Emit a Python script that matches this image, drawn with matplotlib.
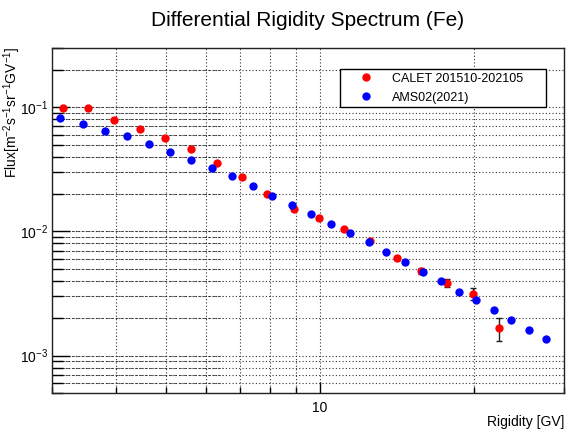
import matplotlib
matplotlib.use("Agg")
import matplotlib.pyplot as plt
from matplotlib.ticker import LogLocator, NullFormatter, FixedLocator, FixedFormatter

# CALET 201510-202105 (Fe)
calet_rigidity = [3.15, 3.53, 3.97, 4.46, 4.99, 5.60, 6.30, 7.04, 7.90, 8.91,
                  9.99, 11.16, 12.56, 14.13, 15.80, 17.74, 19.91, 22.35]
calet_flux = [0.0982, 0.0982, 0.0791, 0.0670, 0.0567, 0.0465, 0.0356, 0.0275, 0.0199, 0.01524,
              0.01273, 0.01045, 0.00837, 0.00614, 0.00482, 0.00386, 0.00316, 0.00166]
calet_err = [0.0012, 0.0012, 0.0009, 0.0008, 0.0007, 0.0006, 0.0005, 0.0004, 0.0003, 0.0003,
             0.0003, 0.0003, 0.0002, 0.0002, 0.00027, 0.0003, 0.00034, 0.00034]

# AMS02 (2021)
ams_rigidity = [3.115, 3.45, 3.81, 4.20, 4.65, 5.11, 5.60, 6.17, 6.74, 7.40,
                8.08, 8.83, 9.63, 10.52, 11.44, 12.47, 13.50, 14.68, 15.90, 17.22,
                18.67, 20.21, 21.91, 23.65, 25.65, 27.70]
ams_flux = [0.0826, 0.0739, 0.0645, 0.0584, 0.0503, 0.0434, 0.0377, 0.0322, 0.0278, 0.0231,
            0.0193, 0.01633, 0.0138, 0.01153, 0.00964, 0.00822, 0.00683, 0.00567, 0.00471, 0.00400,
            0.00328, 0.00278, 0.00231, 0.00193, 0.00160, 0.00135]

plt.rcParams['font.family'] = ['Liberation Sans', 'DejaVu Sans']
plt.rcParams['mathtext.fontset'] = 'custom'
plt.rcParams['mathtext.rm'] = 'Liberation Sans'
plt.rcParams['mathtext.it'] = 'Liberation Sans:italic'
plt.rcParams['mathtext.default'] = 'regular'

W, H = 567, 430
fig = plt.figure(figsize=(W / 100, H / 100), dpi=100)
ax = fig.add_axes([52 / W, 1 - 393 / H, 512 / W, 345 / H])

ax.errorbar(calet_rigidity, calet_flux, yerr=calet_err, fmt='none',
            ecolor='#222222', elinewidth=1, capsize=2, zorder=3)
h_calet, = ax.plot(calet_rigidity, calet_flux, 'o', color='red', markersize=6,
                   markeredgewidth=0, label='CALET 201510-202105', zorder=3.5)
h_ams, = ax.plot(ams_rigidity, ams_flux, 'o', color='blue', markersize=6,
                 markeredgewidth=0, label='AMS02(2021)', zorder=4)

ax.set_xscale('log')
ax.set_yscale('log')
ax.set_xlim(3, 30)
ax.set_ylim(5e-4, 0.3)

ax.xaxis.set_major_locator(FixedLocator([10]))
ax.xaxis.set_major_formatter(FixedFormatter(['10']))
ax.xaxis.set_minor_locator(LogLocator(base=10, subs=range(2, 10)))
ax.xaxis.set_minor_formatter(NullFormatter())
ax.yaxis.set_major_locator(LogLocator(base=10))
ax.yaxis.set_minor_locator(LogLocator(base=10, subs=range(2, 10)))
ax.yaxis.set_minor_formatter(NullFormatter())

ax.tick_params(axis='x', which='major', direction='in', length=7.7, width=1, labelsize=10, pad=5.5)
ax.tick_params(axis='x', which='minor', direction='in', length=4.3, width=1)
ax.tick_params(axis='y', which='major', direction='in', length=13, width=1, labelsize=10, pad=2.5)
ax.tick_params(axis='y', which='minor', direction='in', length=8, width=1)

ax.grid(True, which='both', color='#333333', linestyle=(0, (1, 2)), linewidth=0.8)
ax.set_axisbelow(True)

# darker left part of the horizontal grid lines, as in the original
ygrid = [v * 10.0 ** e for e in (-4, -3, -2, -1) for v in range(1, 10)]
for yv in ygrid:
    if 5e-4 < yv < 0.3:
        ax.axhline(yv, xmax=0.334, color='#555555', linestyle=(0, (3, 2)), linewidth=0.7, zorder=0.5)

for s in ax.spines.values():
    s.set_linewidth(1)
    s.set_color('#222222')

fig.text(308 / W, 1 - 21 / H, 'Differential Rigidity Spectrum (Fe)', ha='center', va='center', fontsize=15)
fig.text(12 / W, 1 - 47 / H, r'Flux[m$^{-2}$s$^{-1}$sr$^{-1}$GV$^{-1}$]', rotation=90,
         ha='center', va='top', fontsize=10)
fig.text(564 / W, 1 - 422 / H, 'Rigidity [GV]', ha='right', va='center', fontsize=10)

leg = ax.legend(handles=[h_calet, h_ams], loc='upper left',
                bbox_to_anchor=(340 / W, 1 - 113 / H, 206 / W, 44 / H),
                bbox_transform=fig.transFigure, mode='expand', borderaxespad=0,
                fontsize=9, fancybox=False, framealpha=1, edgecolor='black',
                borderpad=0.3, labelspacing=0.56, handlelength=3.55, handletextpad=0.3,
                numpoints=1)
leg.get_frame().set_linewidth(1)

fig.savefig('out.png', dpi=100)
